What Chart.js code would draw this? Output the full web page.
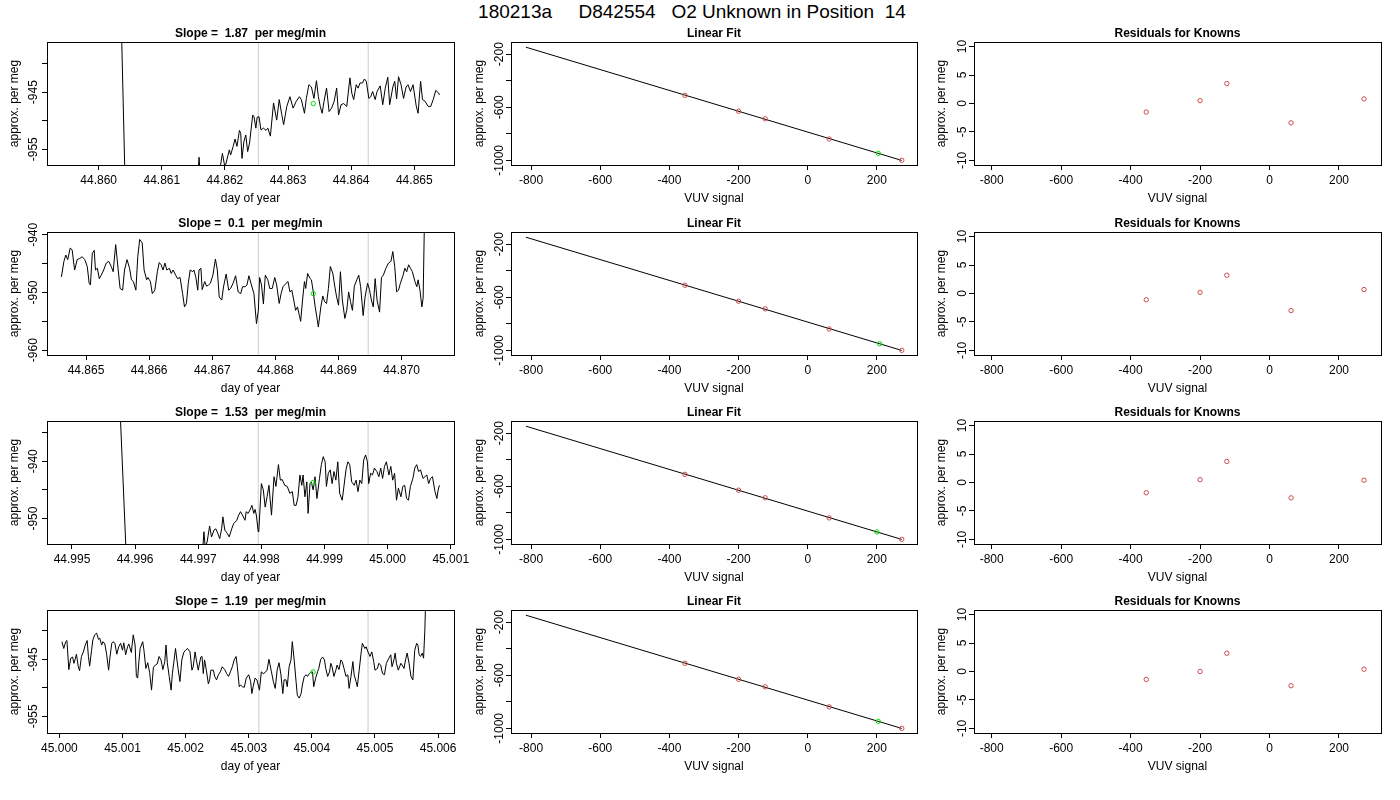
<!DOCTYPE html>
<html lang="en">
<head>
  <meta charset="UTF-8">
  <title>180213a D842554 O2 Unknown in Position 14</title>
  <script src="https://cdn.jsdelivr.net/npm/chart.js"></script>
  <style>
    body {
      margin: 0;
      background: #fff;
      font-family: "Liberation Sans", Arial, Helvetica, sans-serif;
    }

    #page {
      position: relative;
      width: 1400px;
      height: 800px;
      overflow: hidden;
      background: #fff;
    }

    #page h1 {
      position: absolute;
      left: 0;
      top: 2px;
      width: 1384px;
      margin: 0;
      text-align: center;
      font-size: 19px;
      line-height: 20px;
      font-weight: normal;
      white-space: pre;
      color: #000;
    }

    #page canvas {
      position: absolute;
    }
  </style>
</head>
<body>

<div id="page">
  <h1>180213a     D842554   O2 Unknown in Position  14</h1>
</div>

<script>
  // ---- values ----

  const slopes = ['1.87', '0.1', '1.53', '1.19'];

  // time series, row 1
  const tsX1 = [44.85942, 44.86032, 44.86047, 44.86100, 44.86150, 44.86157, 44.86159, 44.86162, 44.86185, 44.86192,
    44.86196, 44.86200, 44.86207, 44.86209, 44.86213, 44.86216, 44.86219, 44.86223, 44.86225, 44.86227,
    44.86230, 44.86233, 44.86236, 44.86239, 44.86244, 44.86246, 44.86249, 44.86251, 44.86254, 44.86257,
    44.86261, 44.86265, 44.86268, 44.86272, 44.86277, 44.86282, 44.86286, 44.86290, 44.86293, 44.86298,
    44.86303, 44.86308, 44.86313, 44.86318, 44.86321, 44.86326, 44.86329, 44.86333, 44.86337, 44.86341,
    44.86345, 44.86348, 44.86351, 44.86354, 44.86357, 44.86361, 44.86365, 44.86369, 44.86373, 44.86377,
    44.86380, 44.86384, 44.86388, 44.86393, 44.86398, 44.86401, 44.86404, 44.86408, 44.86411, 44.86414,
    44.86418, 44.86421, 44.86424, 44.86428, 44.86431, 44.86434, 44.86438, 44.86441, 44.86446, 44.86450,
    44.86454, 44.86458, 44.86461, 44.86466, 44.86469, 44.86472, 44.86475, 44.86479, 44.86483, 44.86487,
    44.86490, 44.86494, 44.86498, 44.86503, 44.86506, 44.86510, 44.86513, 44.86517, 44.86522, 44.86526,
    44.86530, 44.86534, 44.86538, 44.86540];
  const tsY1 = [-900, -915, -985, -975, -966, -960, -956.4, -962, -962, -958.5,
    -955.7, -958.2, -955.1, -956.0, -954.5, -953.2, -954.5, -951.7, -952.2, -956.6,
    -953.7, -952.5, -955.4, -953.9, -949.0, -949.3, -951.3, -949.4, -949.3, -951.6,
    -951.3, -951.7, -951.3, -952.7, -946.9, -949.9, -946.3, -948.9, -950.7, -947.5,
    -945.8, -947.8, -946.6, -945.8, -946.3, -948.7, -946.1, -943.7, -944.1, -946.1,
    -943.0, -945.8, -947.5, -948.7, -946.6, -944.3, -948.4, -947.8, -946.6, -944.3,
    -949.0, -947.2, -947.0, -947.5, -942.5, -945.2, -946.3, -943.7, -944.3, -943.4,
    -943.4, -942.7, -943.1, -946.1, -945.8, -944.9, -946.3, -944.9, -943.9, -947.2,
    -944.3, -942.4, -947.2, -944.1, -943.1, -946.2, -942.3, -943.7, -946.1, -944.1,
    -943.7, -944.9, -943.7, -947.4, -948.7, -943.1, -946.3, -946.6, -947.5, -947.5,
    -946.3, -944.7, -945.1, -945.5];

  // time series, row 2
  const tsX2 = [44.86461, 44.86465, 44.86468, 44.86471, 44.86475, 44.86478, 44.86482, 44.86486, 44.86490, 44.86494,
    44.86498, 44.86502, 44.86505, 44.86507, 44.86510, 44.86513, 44.86515, 44.86518, 44.86521, 44.86524,
    44.86528, 44.86532, 44.86536, 44.86540, 44.86543, 44.86547, 44.86551, 44.86554, 44.86558, 44.86561,
    44.86565, 44.86569, 44.86572, 44.86575, 44.86579, 44.86582, 44.86585, 44.86589, 44.86592, 44.86596,
    44.86598, 44.86602, 44.86605, 44.86609, 44.86613, 44.86616, 44.86619, 44.86622, 44.86625, 44.86628,
    44.86632, 44.86635, 44.86638, 44.86642, 44.86645, 44.86649, 44.86653, 44.86656, 44.86659, 44.86662,
    44.86665, 44.86669, 44.86671, 44.86674, 44.86677, 44.86679, 44.86682, 44.86684, 44.86688, 44.86691,
    44.86694, 44.86697, 44.86701, 44.86705, 44.86708, 44.86711, 44.86715, 44.86718, 44.86722, 44.86726,
    44.86729, 44.86733, 44.86737, 44.86741, 44.86745, 44.86748, 44.86752, 44.86755, 44.86758, 44.86762,
    44.86766, 44.86770, 44.86773, 44.86775, 44.86778, 44.86781, 44.86784, 44.86788, 44.86791, 44.86795,
    44.86799, 44.86802, 44.86806, 44.86809, 44.86812, 44.86817, 44.86820, 44.86823, 44.86826, 44.86829,
    44.86832, 44.86835, 44.86838, 44.86840, 44.86843, 44.86846, 44.86848, 44.86851, 44.86855, 44.86857,
    44.86860, 44.86863, 44.86866, 44.86868, 44.86872, 44.86875, 44.86878, 44.86881, 44.86884, 44.86887,
    44.86891, 44.86894, 44.86897, 44.86900, 44.86903, 44.86906, 44.86910, 44.86913, 44.86916, 44.86919,
    44.86922, 44.86925, 44.86929, 44.86932, 44.86935, 44.86939, 44.86942, 44.86946, 44.86949, 44.86952,
    44.86955, 44.86958, 44.86961, 44.86965, 44.86968, 44.86971, 44.86975, 44.86979, 44.86983, 44.86986,
    44.86989, 44.86992, 44.86995, 44.86998, 44.87002, 44.87005, 44.87008, 44.87011, 44.87014, 44.87017,
    44.87021, 44.87024, 44.87026, 44.87029, 44.87032, 44.87034, 44.87038, 44.87059];
  const tsY2 = [-947.3, -944.6, -943.5, -944.3, -942.3, -942.6, -946.1, -944.3, -944.1, -943.8,
    -944.3, -945.5, -948.4, -948.7, -943.2, -942.7, -946.1, -945.8, -947.6, -947.0,
    -946.1, -944.9, -944.6, -945.5, -946.4, -941.7, -946.1, -949.3, -949.6, -946.1,
    -944.3, -945.8, -947.8, -948.1, -949.6, -943.8, -940.8, -941.4, -946.1, -947.8,
    -947.4, -948.1, -950.2, -949.6, -946.4, -944.8, -945.2, -946.1, -944.9, -946.1,
    -945.8, -946.7, -946.1, -947.0, -947.6, -947.4, -950.2, -952.5, -951.9, -948.4,
    -946.1, -946.4, -946.1, -947.4, -949.6, -946.1, -945.8, -949.5, -948.1, -948.9,
    -948.7, -948.4, -947.0, -944.2, -946.1, -950.8, -951.3, -948.9, -946.8, -949.6,
    -949.3, -948.4, -947.1, -949.9, -950.2, -949.0, -949.0, -948.7, -947.1, -948.7,
    -950.2, -955.4, -953.1, -947.4, -948.7, -952.0, -947.0, -947.8, -949.3, -949.3,
    -947.4, -948.7, -951.9, -950.2, -949.0, -948.4, -948.1, -949.9, -949.6, -951.3,
    -953.1, -952.5, -954.0, -955.0, -951.3, -948.1, -949.3, -946.7, -947.6, -947.8,
    -949.9, -952.5, -954.5, -956.0, -952.5, -950.6, -951.6, -951.9, -949.3, -945.5,
    -946.7, -948.9, -950.8, -952.2, -946.4, -951.3, -954.5, -953.1, -949.9, -951.6,
    -953.1, -948.9, -947.8, -947.0, -949.0, -954.0, -950.8, -948.4, -949.5, -951.3,
    -952.5, -947.6, -951.3, -953.4, -947.4, -947.0, -945.8, -944.9, -944.6, -942.9,
    -945.5, -949.9, -949.6, -948.4, -947.1, -945.8, -946.4, -945.2, -945.8, -946.4,
    -948.1, -949.0, -947.8, -949.6, -952.5, -951.0, -925, -905];

  // time series, row 3
  const tsX3 = [44.99484, 44.99575, 44.99588, 44.99650, 44.99700, 44.99707, 44.99709, 44.99711, 44.99714, 44.99718,
    44.99721, 44.99725, 44.99728, 44.99731, 44.99734, 44.99737, 44.99739, 44.99742, 44.99746, 44.99749,
    44.99753, 44.99756, 44.99761, 44.99764, 44.99767, 44.99770, 44.99774, 44.99776, 44.99779, 44.99782,
    44.99785, 44.99788, 44.99790, 44.99792, 44.99795, 44.99796, 44.99800, 44.99803, 44.99806, 44.99809,
    44.99812, 44.99816, 44.99820, 44.99823, 44.99827, 44.99830, 44.99833, 44.99837, 44.99841, 44.99845,
    44.99849, 44.99852, 44.99855, 44.99858, 44.99861, 44.99864, 44.99866, 44.99869, 44.99872, 44.99874,
    44.99877, 44.99879, 44.99882, 44.99885, 44.99888, 44.99892, 44.99895, 44.99898, 44.99901, 44.99903,
    44.99906, 44.99909, 44.99912, 44.99915, 44.99918, 44.99921, 44.99924, 44.99928, 44.99931, 44.99934,
    44.99937, 44.99940, 44.99943, 44.99947, 44.99950, 44.99953, 44.99956, 44.99959, 44.99962, 44.99965,
    44.99968, 44.99970, 44.99973, 44.99976, 44.99979, 44.99983, 44.99986, 44.99989, 44.99992, 44.99995,
    44.99998, 45.00002, 45.00005, 45.00008, 45.00011, 45.00014, 45.00017, 45.00021, 45.00024, 45.00027,
    45.00030, 45.00033, 45.00036, 45.00040, 45.00043, 45.00046, 45.00049, 45.00052, 45.00056, 45.00059,
    45.00062, 45.00065, 45.00068, 45.00071, 45.00075, 45.00078, 45.00080, 45.00082];
  const tsY3 = [-920, -928, -962, -968, -962, -955.5, -952.3, -955.0, -954.1, -951.3,
    -953.2, -952.0, -951.8, -952.6, -953.5, -951.8, -949.7, -952.0, -952.6, -953.2,
    -951.8, -950.9, -950.3, -949.4, -948.8, -949.4, -950.3, -948.8, -949.1, -948.5,
    -947.7, -949.1, -948.4, -949.4, -952.3, -952.0, -943.9, -945.0, -948.0, -946.2,
    -944.2, -949.4, -942.7, -944.4, -940.6, -943.3, -943.2, -944.2, -944.4, -945.6,
    -945.3, -947.7, -947.7, -946.2, -942.4, -944.2, -942.4, -946.2, -943.6, -949.1,
    -943.9, -943.6, -945.0, -942.7, -946.5, -943.0, -940.6, -939.2, -940.1, -944.4,
    -942.1, -941.5, -943.9, -941.8, -943.3, -940.1, -945.6, -946.8, -944.2, -941.5,
    -940.1, -940.6, -943.6, -944.2, -943.3, -945.3, -943.3, -943.9, -939.8, -938.9,
    -940.1, -943.9, -942.1, -942.4, -941.2, -941.8, -942.7, -941.2, -943.0, -940.9,
    -940.1, -942.4, -940.9, -943.3, -942.1, -946.8, -944.7, -946.2, -944.4, -944.2,
    -946.5, -946.8, -944.4, -943.0, -941.2, -940.6, -941.8, -941.5, -943.0, -942.7,
    -942.4, -943.9, -943.0, -942.7, -945.3, -946.5, -945.0, -944.2];

  // time series, row 4
  const tsX4 = [45.00004, 45.00007, 45.00010, 45.00012, 45.00015, 45.00018, 45.00021, 45.00023, 45.00025, 45.00027,
    45.00030, 45.00032, 45.00035, 45.00038, 45.00041, 45.00044, 45.00046, 45.00048, 45.00051, 45.00053,
    45.00056, 45.00059, 45.00062, 45.00064, 45.00067, 45.00069, 45.00072, 45.00075, 45.00078, 45.00080,
    45.00083, 45.00085, 45.00088, 45.00091, 45.00094, 45.00097, 45.00100, 45.00102, 45.00105, 45.00108,
    45.00110, 45.00114, 45.00117, 45.00120, 45.00122, 45.00124, 45.00126, 45.00128, 45.00132, 45.00134,
    45.00137, 45.00140, 45.00143, 45.00146, 45.00149, 45.00152, 45.00155, 45.00158, 45.00161, 45.00164,
    45.00167, 45.00169, 45.00171, 45.00174, 45.00177, 45.00179, 45.00181, 45.00184, 45.00188, 45.00191,
    45.00194, 45.00197, 45.00200, 45.00203, 45.00207, 45.00210, 45.00212, 45.00215, 45.00217, 45.00220,
    45.00224, 45.00226, 45.00228, 45.00230, 45.00233, 45.00236, 45.00238, 45.00240, 45.00244, 45.00246,
    45.00249, 45.00252, 45.00255, 45.00258, 45.00262, 45.00265, 45.00268, 45.00271, 45.00274, 45.00277,
    45.00280, 45.00282, 45.00285, 45.00287, 45.00290, 45.00293, 45.00296, 45.00300, 45.00303, 45.00305,
    45.00307, 45.00310, 45.00313, 45.00317, 45.00320, 45.00323, 45.00326, 45.00329, 45.00332, 45.00336,
    45.00339, 45.00342, 45.00345, 45.00348, 45.00351, 45.00354, 45.00356, 45.00359, 45.00361, 45.00364,
    45.00367, 45.00369, 45.00372, 45.00375, 45.00377, 45.00380, 45.00383, 45.00385, 45.00388, 45.00391,
    45.00393, 45.00396, 45.00398, 45.00401, 45.00403, 45.00406, 45.00409, 45.00411, 45.00414, 45.00417,
    45.00420, 45.00422, 45.00425, 45.00428, 45.00430, 45.00432, 45.00435, 45.00438, 45.00440, 45.00443,
    45.00446, 45.00448, 45.00451, 45.00454, 45.00457, 45.00459, 45.00462, 45.00465, 45.00467, 45.00470,
    45.00472, 45.00475, 45.00478, 45.00480, 45.00484, 45.00486, 45.00489, 45.00492, 45.00495, 45.00498,
    45.00500, 45.00504, 45.00506, 45.00509, 45.00512, 45.00515, 45.00518, 45.00522, 45.00525, 45.00527,
    45.00530, 45.00532, 45.00534, 45.00537, 45.00541, 45.00543, 45.00546, 45.00549, 45.00551, 45.00554,
    45.00557, 45.00560, 45.00563, 45.00566, 45.00568, 45.00570, 45.00572, 45.00575, 45.00577, 45.00579,
    45.00582, 45.00601];
  const tsY4 = [-941.9, -943.1, -941.9, -941.7, -946.8, -944.8, -944.6, -945.7, -945.0, -944.1,
    -946.3, -947.0, -944.5, -943.7, -942.5, -941.7, -944.5, -946.2, -943.4, -941.6,
    -940.7, -940.4, -941.5, -941.3, -942.5, -941.9, -942.3, -944.2, -946.9, -944.8,
    -942.2, -941.9, -942.2, -944.1, -942.8, -942.2, -943.4, -942.1, -944.2, -942.8,
    -942.3, -943.8, -940.7, -942.5, -948.0, -948.3, -945.4, -943.1, -941.9, -943.4,
    -946.6, -945.6, -947.3, -950.4, -946.4, -946.0, -945.8, -944.5, -945.1, -946.8,
    -945.4, -942.5, -945.6, -948.0, -950.4, -947.5, -945.8, -943.1, -946.6, -948.9,
    -945.1, -943.8, -943.4, -943.1, -943.7, -946.9, -946.3, -943.7, -945.1, -946.9,
    -944.6, -944.5, -947.5, -945.1, -947.0, -949.3, -948.6, -946.9, -946.9, -948.0,
    -948.6, -947.7, -947.2, -946.3, -946.8, -947.5, -948.0, -947.2, -946.3, -945.1,
    -944.5, -946.3, -949.8, -949.5, -949.8, -949.9, -948.3, -947.7, -948.9, -951.0,
    -949.8, -948.3, -948.6, -950.4, -947.2, -947.5, -947.3, -946.9, -945.0, -947.2,
    -948.9, -950.1, -946.9, -945.6, -947.7, -951.0, -948.6, -948.6, -949.8, -946.3,
    -945.1, -941.9, -945.1, -948.9, -951.3, -951.8, -951.0, -949.5, -948.0, -947.7,
    -948.0, -947.5, -947.3, -947.2, -949.8, -948.3, -947.2, -946.6, -945.0, -944.6,
    -945.1, -946.6, -948.0, -947.2, -945.7, -946.3, -948.0, -946.9, -946.0, -946.8,
    -945.1, -945.4, -946.6, -948.0, -947.7, -950.1, -948.0, -945.4, -947.7, -948.9,
    -949.8, -946.9, -943.9, -942.2, -943.1, -942.8, -943.7, -944.5, -943.7, -945.4,
    -946.9, -946.6, -945.7, -946.0, -947.5, -947.7, -945.7, -944.8, -944.2, -946.3,
    -945.1, -943.9, -945.7, -946.9, -945.7, -946.0, -946.6, -944.8, -943.9, -945.7,
    -948.0, -948.6, -943.4, -942.2, -942.5, -944.2, -944.5, -943.9, -944.8, -939.9,
    -928, -915];

  // integration window (grey lines) and the unknown's mean (green point)
  const winStart = [44.86253, 44.86773, 44.99795, 45.00316];
  const winEnd   = [44.86427, 44.86947, 44.99969, 45.00489];
  const unkTime  = [44.86340, 44.86860, 44.99882, 45.00402];
  const unkPm    = [-947.0, -950.2, -943.7, -947.2];
  const unkVuv   = [204, 208, 200, 204];

  // calibration: known standards, fit line, residuals
  const knownVuv = [-355, -200, -123, 62, 272];
  const knownPm1 = [-509.8, -629.5, -686.9, -839.1, -999.7];
  const knownPm2 = [-509.4, -629.8, -687.2, -838.7, -999.8];
  const knownPm3 = [-510.1, -629.5, -686.7, -838.4, -1000.1];
  const knownPm4 = [-509.7, -630.0, -687.2, -838.2, -1000.1];
  const fitVuv = [-815, 272];
  const fitPm  = [-147, -1000.5];
  const resid1 = [-1.5, 0.5, 3.5, -3.4, 0.8];
  const resid2 = [-1.1, 0.2, 3.2, -3.0, 0.7];
  const resid3 = [-1.8, 0.5, 3.7, -2.7, 0.4];
  const resid4 = [-1.4, 0.0, 3.2, -2.5, 0.4];

  // axis ticks
  const dayTicks1 = [44.860, 44.861, 44.862, 44.863, 44.864, 44.865];
  const dayTicks2 = [44.865, 44.866, 44.867, 44.868, 44.869, 44.870];
  const dayTicks3 = [44.995, 44.996, 44.997, 44.998, 44.999, 45.000, 45.001];
  const dayTicks4 = [45.000, 45.001, 45.002, 45.003, 45.004, 45.005, 45.006];
  const pmTicks1 = [-955, -950, -945, -940];
  const pmTicks2 = [-960, -955, -950, -945, -940];
  const pmTicks3 = [-950, -945, -940, -935];
  const pmTicks4 = [-955, -950, -945, -940];
  const pmShown1 = [-955, -945];
  const pmShown2 = [-960, -950, -940];
  const pmShown3 = [-950, -940];
  const pmShown4 = [-955, -945];
  const vuvTicks = [-800, -600, -400, -200, 0, 200];
  const fitTicks = [-1000, -800, -600, -400, -200];
  const fitShown = [-1000, -600, -200];
  const residTicks = [-10, -5, 0, 5, 10];

  const series = [
    { x: tsX1, y: tsY1, ticks: dayTicks1, pm: pmTicks1, shown: pmShown1, known: knownPm1, resid: resid1 },
    { x: tsX2, y: tsY2, ticks: dayTicks2, pm: pmTicks2, shown: pmShown2, known: knownPm2, resid: resid2 },
    { x: tsX3, y: tsY3, ticks: dayTicks3, pm: pmTicks3, shown: pmShown3, known: knownPm3, resid: resid3 },
    { x: tsX4, y: tsY4, ticks: dayTicks4, pm: pmTicks4, shown: pmShown4, known: knownPm4, resid: resid4 }
  ];

  // ---- layout (plot limits and pixel positions) ----
  const dayRange = [[44.859181, 44.865629], [44.864382, 44.870829], [44.994604, 45.001051], [44.999804, 45.006252]];
  const pmRange  = [[-957.75, -936.23], [-960.84, -939.51], [-954.44, -932.98], [-957.92, -936.35]];

  const ROW_TOP = [42, 232, 421, 610];
  const BOX_H = 123;
  const X_AXIS_H = 42;
  const COLS = [
    { left: 0,   box: 47,  right: 454,  ylabX: 15,  tickX: 34 },
    { left: 468, box: 511, right: 917,  ylabX: 480, tickX: 500 },
    { left: 928, box: 974, right: 1381, ylabX: 942, tickX: 963 }
  ];

  const FONT = '"Liberation Sans", Arial, Helvetica, sans-serif';
  Chart.defaults.font.family = FONT;
  Chart.defaults.font.size = 12;
  Chart.defaults.color = '#000';

  const RED = '#cc4c4c';
  const GREEN = '#00e000';
  const GREY = '#cccccc';

  const page = document.getElementById('page');
  const measureCtx = document.createElement('canvas').getContext('2d');
  measureCtx.font = '12px ' + FONT;

  // R style box round the plot region (on the same pixels as the tick marks)
  const boxPlugin = {
    id: 'plotBox',
    afterDatasetsDraw(chart) {
      const { ctx, chartArea: a } = chart;
      const l = Math.round(a.left) + 0.5, t = Math.round(a.top) + 0.5;
      const r = Math.round(a.right) + 0.5, b = Math.round(a.bottom) + 0.5;
      ctx.save();
      ctx.strokeStyle = '#000';
      ctx.lineWidth = 1;
      ctx.strokeRect(l, t, r - l, b - t);
      ctx.restore();
    }
  };

  function xAxis(range, ticks, fmt, title) {
    return {
      type: 'linear',
      position: 'bottom',
      min: range[0],
      max: range[1],
      afterBuildTicks: s => { s.ticks = ticks.map(v => ({ value: v })); },
      afterFit: s => { s.height = X_AXIS_H; s.paddingLeft = 0; s.paddingRight = 0; },
      grid: { drawOnChartArea: false, drawTicks: true, tickLength: 5, color: '#000' },
      border: { display: false },
      ticks: { autoSkip: false, minRotation: 0, maxRotation: 0, padding: 3, color: '#000', callback: fmt },
      title: { display: true, text: title, color: '#000', padding: { top: 0, bottom: 0.8 } }
    };
  }

  function yAxis(range, ticks, shown, col, title) {
    const widest = Math.max(...shown.map(v => measureCtx.measureText(String(v)).width));
    const pad = (col.box - col.tickX) - 5 - widest / 2;
    return {
      type: 'linear',
      position: 'left',
      min: range[0],
      max: range[1],
      afterBuildTicks: s => { s.ticks = ticks.map(v => ({ value: v })); },
      afterFit: s => { s.width = col.box - col.left; s.paddingTop = 0; s.paddingBottom = 0; },
      grid: { drawOnChartArea: false, drawTicks: true, tickLength: 5, color: '#000' },
      border: { display: false },
      ticks: {
        autoSkip: false, minRotation: 90, maxRotation: 90, crossAlign: 'center', padding: pad, color: '#000',
        callback: v => shown.includes(v) ? String(v) : ''
      },
      title: { display: true, text: title, color: '#000', padding: { top: col.ylabX - col.left - 7.2, bottom: 0 } }
    };
  }

  function pts(xs, ys) {
    return xs.map((x, k) => ({ x: x, y: ys[k] }));
  }

  function circles(data, color) {
    return {
      data: data, showLine: false,
      pointStyle: 'circle', pointRadius: 2.2, pointBorderWidth: 1,
      borderColor: color, pointBorderColor: color,
      backgroundColor: 'rgba(0,0,0,0)', pointBackgroundColor: 'rgba(0,0,0,0)'
    };
  }

  function line(data, color) {
    return { data: data, showLine: true, borderColor: color, borderWidth: 1, pointRadius: 0, tension: 0, fill: false };
  }

  function panel(row, c, title, scales, datasets) {
    const col = COLS[c];
    const w = Math.min(col.right + 24, 1400) - col.left;
    const h = 30 + BOX_H + X_AXIS_H;
    const cv = document.createElement('canvas');
    cv.width = w;
    cv.height = h;
    cv.style.width = w + 'px';
    cv.style.height = h + 'px';
    cv.style.left = col.left + 'px';
    cv.style.top = (ROW_TOP[row] - 30) + 'px';
    page.appendChild(cv);

    new Chart(cv, {
      type: 'scatter',
      data: { datasets: datasets },
      options: {
        responsive: false,
        animation: false,
        events: [],
        layout: { padding: { left: 0, top: 0, bottom: 0, right: col.left + w - col.right } },
        plugins: {
          legend: { display: false },
          tooltip: { enabled: false },
          title: {
            display: true, text: title, fullSize: false, color: '#000',
            font: { size: 12, weight: 'bold' }, padding: { top: 14.8, bottom: 0.8 }
          }
        },
        scales: scales
      },
      plugins: [boxPlugin]
    });
  }

  series.forEach((s, i) => {
    const lo = pmRange[i][0], hi = pmRange[i][1];

    // left: raw per meg against day of year
    panel(i, 0, 'Slope =  ' + slopes[i] + '  per meg/min', {
      x: xAxis(dayRange[i], s.ticks, v => v.toFixed(3), 'day of year'),
      y: yAxis(pmRange[i], s.pm, s.shown, COLS[0], 'approx. per meg')
    }, [
      circles([{ x: unkTime[i], y: unkPm[i] }], GREEN),
      line(pts(s.x, s.y), '#000'),
      line([{ x: winStart[i], y: lo }, { x: winStart[i], y: hi }], GREY),
      line([{ x: winEnd[i], y: lo }, { x: winEnd[i], y: hi }], GREY)
    ]);

    // middle: calibration line through the knowns
    panel(i, 1, 'Linear Fit', {
      x: xAxis([-858, 316], vuvTicks, v => String(v), 'VUV signal'),
      y: yAxis([-1035, -108], fitTicks, fitShown, COLS[1], 'approx. per meg')
    }, [
      circles([{ x: unkVuv[i], y: unkPm[i] }], GREEN),
      circles(pts(knownVuv, s.known), RED),
      line(pts(fitVuv, fitPm), '#000')
    ]);

    // right: residuals of the knowns
    panel(i, 2, 'Residuals for Knowns', {
      x: xAxis([-851, 321], vuvTicks, v => String(v), 'VUV signal'),
      y: yAxis([-10.8, 10.8], residTicks, residTicks, COLS[2], 'approx. per meg')
    }, [
      circles(pts(knownVuv, s.resid), RED)
    ]);
  });
</script>

</body>
</html>
